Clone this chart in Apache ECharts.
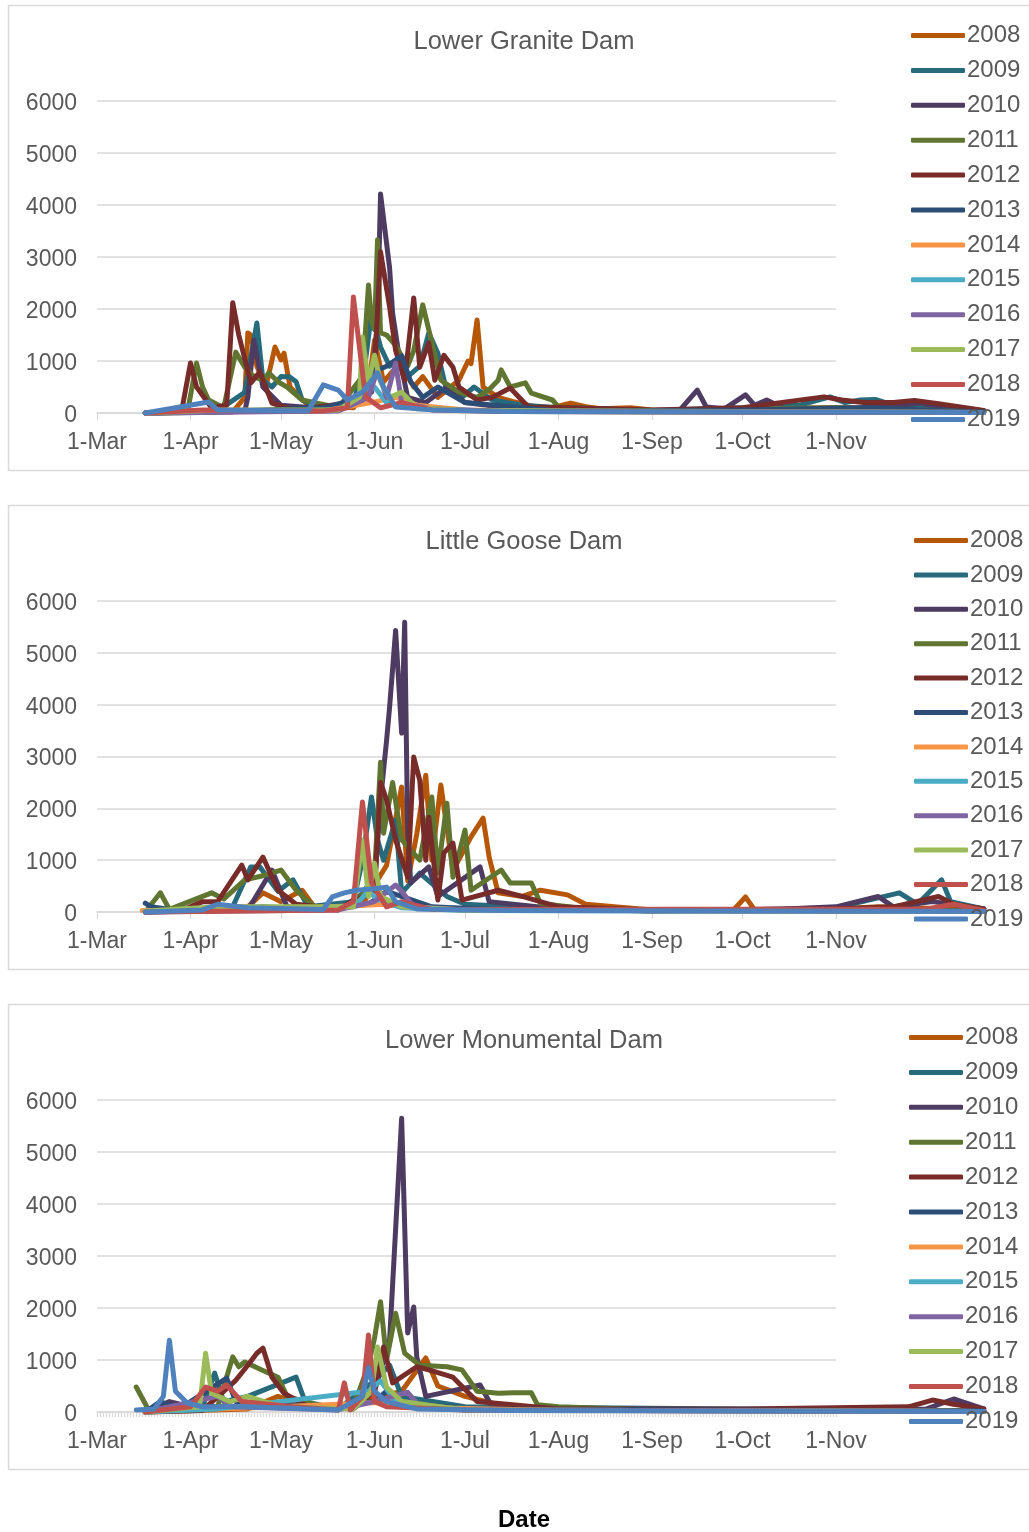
<!DOCTYPE html>
<html>
<head>
<meta charset="utf-8">
<title>Daily counts at three Snake River dams, 2008–2019</title>
<script src="https://cdn.jsdelivr.net/npm/echarts@6/dist/echarts.min.js"></script>
<style>
  html, body { margin: 0; padding: 0; background: #ffffff; }
  #chart { width: 1029px; height: 1532px; }
</style>
</head>
<body>
<div id="chart"></div>
<script>
// ---- Axis / legend content ----
const YEARS = ['2008','2009','2010','2011','2012','2013','2014','2015','2016','2017','2018','2019'];
const TICK_LABELS = ['1-Mar','1-Apr','1-May','1-Jun','1-Jul','1-Aug','1-Sep','1-Oct','1-Nov'];
const Y_TICKS = [0, 1000, 2000, 3000, 4000, 5000, 6000];
const DAM_TITLES = ['Lower Granite Dam', 'Little Goose Dam', 'Lower Monumental Dam'];
const X_TITLE = 'Date';

// ---- Lower Granite Dam: [month-day, count] ----
const LGR_2008 = [['3-17',0],['4-15',20],['4-19',300],['4-20',1540],['4-21',1500],['4-23',900],['4-26',500],['4-29',1270],['5-1',1020],['5-2',1150],['5-4',500],['5-10',150],['5-25',100],['5-30',500],['6-1',1400],['6-4',600],['6-7',800],['6-10',900],['6-14',500],['6-17',700],['6-22',300],['6-29',630],['7-2',1000],['7-3',950],['7-5',1790],['7-7',500],['7-12',300],['7-17',220],['7-22',150],['7-28',80],['8-5',190],['8-10',120],['8-15',80],['8-25',100],['9-1',60],['9-10',40],['10-1',80],['11-1',100],['12-1',80],['12-20',30]];
const LGR_2009 = [['3-17',0],['4-10',40],['4-19',400],['4-23',1730],['4-25',630],['4-28',500],['5-1',700],['5-4',690],['5-6',600],['5-8',250],['5-15',80],['5-25',200],['5-29',1000],['5-31',1920],['6-3',1270],['6-6',900],['6-9',1000],['6-12',700],['6-16',900],['6-19',1540],['6-22',1150],['6-25',400],['6-30',300],['7-4',500],['7-10',250],['7-20',150],['8-1',100],['9-1',50],['10-1',100],['10-20',150],['10-30',310],['11-4',200],['11-9',250],['11-14',260],['11-20',150],['12-5',100],['12-20',40]];
const LGR_2010 = [['3-17',0],['4-19',40],['4-20',300],['4-22',1400],['4-25',500],['5-1',150],['5-20',60],['5-31',400],['6-2',1790],['6-3',4210],['6-6',2790],['6-7',1920],['6-9',1150],['6-12',300],['6-18',200],['6-25',500],['7-1',200],['7-15',100],['8-1',60],['9-10',40],['9-16',440],['9-19',115],['9-25',80],['10-2',350],['10-5',150],['10-9',250],['10-15',80],['11-10',100],['11-20',140],['11-29',190],['12-4',130],['12-10',120],['12-20',40]];
const LGR_2011 = [['3-17',0],['3-31',20],['4-3',960],['4-5',500],['4-7',250],['4-12',100],['4-16',1170],['4-19',880],['4-22',700],['4-25',630],['4-27',770],['4-30',600],['5-3',500],['5-8',250],['5-20',100],['5-28',700],['5-30',2460],['5-31',1790],['6-1',1600],['6-2',3330],['6-3',1540],['6-5',1500],['6-8',1300],['6-12',900],['6-14',1200],['6-17',2080],['6-19',1600],['6-23',630],['6-29',400],['7-5',300],['7-9',450],['7-12',630],['7-13',830],['7-16',500],['7-21',580],['7-23',380],['7-30',250],['8-1',115],['9-1',40],['10-1',80],['11-1',100],['12-1',60],['12-20',20]];
const LGR_2012 = [['3-17',0],['3-29',20],['4-1',960],['4-3',500],['4-8',100],['4-13',150],['4-15',2120],['4-17',1500],['4-21',580],['4-24',790],['4-28',190],['5-5',60],['5-25',200],['6-1',800],['6-3',3100],['6-6',2040],['6-8',1200],['6-11',630],['6-14',2210],['6-16',880],['6-19',1350],['6-21',630],['6-24',1110],['6-27',880],['6-29',500],['7-5',250],['7-10',300],['7-16',480],['7-22',115],['8-5',100],['9-1',60],['10-1',100],['10-28',310],['11-3',250],['11-10',200],['11-20',200],['11-27',240],['12-5',180],['12-20',50]];
const LGR_2013 = [['3-17',0],['4-5',10],['4-25',60],['5-15',100],['5-28',300],['6-1',800],['6-5',900],['6-10',1100],['6-13',600],['6-17',300],['6-22',500],['7-1',200],['8-1',40],['10-1',60],['11-10',100],['12-20',20]];
const LGR_2014 = [['3-17',0],['4-20',40],['5-15',40],['5-31',200],['6-8',300],['6-15',150],['7-1',60],['8-1',30],['9-1',20],['12-20',10]];
const LGR_2015 = [['3-17',0],['5-20',60],['5-29',400],['6-1',500],['6-5',200],['6-15',80],['7-15',30],['12-20',10]];
const LGR_2016 = [['3-17',0],['5-20',40],['5-30',300],['6-2',830],['6-5',300],['6-8',960],['6-10',200],['6-20',80],['7-10',40],['12-20',10]];
const LGR_2017 = [['3-17',0],['4-10',60],['5-20',60],['5-27',300],['5-28',1460],['5-30',600],['6-1',1110],['6-3',600],['6-6',300],['6-10',400],['6-15',100],['7-1',50],['12-20',10]];
const LGR_2018 = [['3-17',0],['4-5',60],['5-15',40],['5-23',100],['5-25',2230],['5-29',310],['6-3',100],['6-10',200],['6-20',60],['7-15',30],['12-20',10]];
const LGR_2019 = [['3-17',0],['4-7',210],['4-10',60],['5-10',40],['5-15',540],['5-20',440],['5-23',250],['5-28',400],['6-2',770],['6-4',500],['6-8',115],['6-20',60],['7-15',30],['12-20',10]];

// ---- Little Goose Dam ----
const LGS_2008 = [['3-17',0],['4-20',100],['4-25',370],['5-1',200],['5-8',420],['5-12',100],['5-28',150],['6-5',900],['6-10',2410],['6-12',600],['6-15',1500],['6-18',2640],['6-20',1000],['6-23',2450],['6-27',800],['7-3',1450],['7-7',1810],['7-9',1060],['7-12',370],['7-20',300],['7-26',420],['8-4',330],['8-10',150],['9-1',40],['9-28',40],['10-2',290],['10-5',40],['11-1',60],['11-15',100],['12-20',40]];
const LGS_2009 = [['3-17',0],['4-15',100],['4-21',870],['4-24',870],['4-30',400],['5-5',620],['5-10',100],['5-25',200],['5-28',1000],['5-31',2220],['6-2',1390],['6-4',1000],['6-8',1770],['6-10',370],['6-16',750],['6-25',300],['7-1',150],['8-1',60],['10-1',40],['11-1',80],['11-22',370],['11-28',150],['12-6',620],['12-9',200],['12-20',60]];
const LGS_2010 = [['3-17',0],['4-20',40],['4-28',810],['5-3',100],['5-20',40],['6-1',500],['6-3',2160],['6-5',3310],['6-6',3950],['6-8',5430],['6-10',3450],['6-11',5590],['6-12',1520],['6-13',560],['6-19',870],['6-22',300],['7-6',870],['7-9',200],['8-1',60],['9-1',20],['10-15',60],['11-1',100],['11-15',300],['11-20',100],['12-3',200],['12-20',60]];
const LGS_2011 = [['3-17',0],['3-22',370],['3-25',50],['4-8',370],['4-12',250],['4-19',620],['4-25',700],['5-1',810],['5-6',420],['5-12',100],['5-25',100],['6-1',700],['6-3',2890],['6-4',1520],['6-7',2500],['6-10',1390],['6-16',1000],['6-20',2220],['6-22',750],['6-25',2100],['6-27',670],['7-1',1580],['7-3',420],['7-13',810],['7-16',560],['7-23',560],['7-26',170],['8-10',60],['9-1',20],['12-20',20]];
const LGS_2012 = [['3-17',0],['3-30',50],['4-5',200],['4-10',200],['4-18',905],['4-20',620],['4-25',1060],['4-30',420],['5-6',150],['5-20',60],['6-1',400],['6-3',2500],['6-5',2160],['6-8',1390],['6-12',670],['6-14',2990],['6-16',2540],['6-18',1000],['6-19',1830],['6-22',230],['6-24',1140],['6-27',1330],['6-30',230],['7-12',420],['7-20',300],['8-1',100],['9-1',40],['11-1',60],['11-20',100],['12-5',300],['12-10',150],['12-20',60]];
const LGS_2013 = [['3-17',170],['3-19',100],['3-25',50],['4-10',50],['4-25',100],['5-15',40],['5-30',150],['6-5',400],['6-10',300],['6-20',100],['7-10',50],['12-20',20]];
const LGS_2014 = [['3-16',30],['3-25',20],['5-1',60],['6-5',150],['6-15',80],['7-1',40],['12-20',10]];
const LGS_2015 = [['3-17',0],['4-5',30],['5-25',100],['5-30',400],['6-2',250],['6-10',80],['7-1',30],['12-20',10]];
const LGS_2016 = [['3-17',0],['5-20',40],['6-1',200],['6-8',520],['6-10',400],['6-14',100],['7-1',40],['12-20',10]];
const LGS_2017 = [['3-17',20],['4-10',100],['5-25',100],['5-28',1390],['5-30',300],['6-1',940],['6-3',300],['6-10',100],['7-1',40],['12-20',10]];
const LGS_2018 = [['3-17',0],['5-20',40],['5-25',200],['5-28',2120],['5-31',560],['6-5',100],['6-10',200],['6-20',50],['12-1',60],['12-10',150],['12-20',30]];
const LGS_2019 = [['3-17',0],['4-5',40],['4-10',150],['4-20',80],['5-15',50],['5-18',290],['5-22',370],['5-26',420],['6-1',450],['6-5',480],['6-8',200],['6-15',60],['7-15',30],['12-20',10]];

// ---- Lower Monumental Dam ----
const LMN_2008 = [['3-17',0],['4-20',60],['4-30',300],['5-5',200],['5-20',60],['6-10',400],['6-18',1040],['6-22',500],['7-1',300],['7-15',100],['8-1',40],['12-20',20]];
const LMN_2009 = [['3-17',0],['4-5',100],['4-9',750],['4-12',200],['4-20',300],['5-6',670],['5-9',200],['5-20',60],['6-1',600],['6-6',900],['6-10',300],['7-1',100],['12-20',20]];
const LMN_2010 = [['3-17',0],['3-25',200],['4-1',100],['5-1',100],['5-25',100],['6-1',400],['6-6',1380],['6-10',5650],['6-12',1520],['6-14',2020],['6-15',1060],['6-18',300],['7-6',520],['7-10',100],['8-1',40],['12-1',60],['12-10',250],['12-20',60]];
const LMN_2011 = [['3-14',480],['3-18',50],['3-25',60],['4-10',100],['4-15',1060],['4-17',870],['4-19',960],['4-25',800],['4-30',670],['5-3',300],['5-15',100],['5-25',100],['5-30',900],['6-1',1420],['6-3',2120],['6-5',1000],['6-8',1900],['6-11',1130],['6-16',900],['6-25',870],['6-30',810],['7-5',400],['7-12',360],['7-17',370],['7-23',370],['7-25',140],['8-1',100],['9-1',40],['12-20',20]];
const LMN_2012 = [['3-17',0],['4-5',30],['4-16',610],['4-20',900],['4-23',1130],['4-25',1230],['4-28',670],['5-2',360],['5-10',100],['5-25',60],['6-1',400],['6-4',1250],['6-7',560],['6-15',870],['6-19',810],['6-27',670],['7-5',200],['8-1',60],['10-1',60],['11-25',100],['12-3',230],['12-10',150],['12-20',60]];
const LMN_2013 = [['3-17',0],['3-22',200],['3-28',50],['4-13',650],['4-16',200],['5-15',100],['6-1',200],['6-5',400],['6-10',200],['7-1',60],['12-20',20]];
const LMN_2014 = [['3-17',0],['4-1',100],['4-10',60],['5-1',100],['6-10',200],['6-20',80],['8-1',30],['12-20',10]];
const LMN_2015 = [['3-17',0],['4-10',60],['5-30',400],['6-3',600],['6-8',200],['7-1',40],['12-20',10]];
const LMN_2016 = [['3-17',0],['4-10',300],['4-15',100],['5-20',40],['6-1',200],['6-12',380],['6-16',100],['7-1',40],['12-20',10]];
const LMN_2017 = [['3-17',0],['4-4',100],['4-6',1130],['4-8',360],['4-14',200],['4-20',300],['5-1',100],['5-25',60],['5-31',400],['6-2',1250],['6-5',480],['6-10',200],['7-1',40],['12-20',10]];
const LMN_2018 = [['3-17',0],['4-1',100],['4-6',480],['4-10',400],['4-13',520],['4-18',200],['5-5',100],['5-20',40],['5-22',560],['5-24',40],['5-28',300],['5-30',1480],['6-1',200],['6-5',100],['7-1',40],['12-20',10]];
const LMN_2019 = [['3-14',40],['3-20',60],['3-23',300],['3-25',1380],['3-27',400],['3-31',170],['4-5',100],['4-20',100],['5-20',40],['5-28',300],['5-30',850],['6-1',400],['6-5',200],['6-15',60],['7-15',30],['12-20',10]];

const PANELS = [
  [LGR_2008, LGR_2009, LGR_2010, LGR_2011, LGR_2012, LGR_2013, LGR_2014, LGR_2015, LGR_2016, LGR_2017, LGR_2018, LGR_2019],
  [LGS_2008, LGS_2009, LGS_2010, LGS_2011, LGS_2012, LGS_2013, LGS_2014, LGS_2015, LGS_2016, LGS_2017, LGS_2018, LGS_2019],
  [LMN_2008, LMN_2009, LMN_2010, LMN_2011, LMN_2012, LMN_2013, LMN_2014, LMN_2015, LMN_2016, LMN_2017, LMN_2018, LMN_2019]
];

// ---- Styling ----
const COLORS = ['#B65708','#276A7C','#4D3B62','#5F7530','#772C2A','#2C4D75',
                '#F79646','#4BACC6','#8064A2','#9BBB59','#C0504D','#4F81BD'];
const FONT = '"Liberation Sans", Arial, sans-serif';
const TEXT = '#595959';
const RULE = '#d9d9d9';

// Day offset from 1 March (non-leap season)
const MONTHS = {Jan:1,Feb:2,Mar:3,Apr:4,May:5,Jun:6,Jul:7,Aug:8,Sep:9,Oct:10,Nov:11,Dec:12};
const BASE = Date.UTC(2019, 2, 1);
function dayFrom(m, d) { return Math.round((Date.UTC(2019, m - 1, d) - BASE) / 86400000); }
function dayOfMD(md) { const p = md.split('-').map(Number); return dayFrom(p[0], p[1]); }
function dayOfLabel(lbl) { const p = lbl.split('-'); return dayFrom(MONTHS[p[1]], Number(p[0])); }

const tickDays = TICK_LABELS.map(dayOfLabel);
const labelByDay = {};
TICK_LABELS.forEach((l, i) => { labelByDay[tickDays[i]] = l; });
const AXIS_END = tickDays[tickDays.length - 1];   // 1-Nov: end of the labelled axis
const DATA_END = dayOfMD('12-31');                // series run past the labelled axis
const PX_PER_DAY = 739 / AXIS_END;

// Panel geometry
const BOX_TOP = [5, 505, 1004];
const BOX_H = [465, 464, 465];
const PLOT_TOP = [101, 601, 1100];
const PLOT_H = [312, 311, 312];
const LEGEND_TOP = [23.5, 528.5, 1025.5];
const LEGEND_GAP = [10.9, 10.4, 10.9];
const PLOT_LEFT = 97;

const grid = [], xAxis = [], yAxis = [], series = [], legend = [], graphic = [];

for (let p = 0; p < 3; p++) {
  // grid 2p: labelled axes + gridlines, grid 2p+1: series canvas (same scale, wider)
  grid.push({ left: PLOT_LEFT, top: PLOT_TOP[p], width: 739, height: PLOT_H[p] });
  grid.push({ left: PLOT_LEFT, top: PLOT_TOP[p], width: Math.round(DATA_END * PX_PER_DAY), height: PLOT_H[p] });

  const dailyTicks = [];
  for (let d = 0; d <= AXIS_END; d++) dailyTicks.push(d);

  xAxis.push({
    type: 'value', gridIndex: 2 * p, min: 0, max: AXIS_END,
    axisLine: { show: true, lineStyle: { color: RULE, width: 1.5 } },
    axisTick: { show: true, customValues: p === 2 ? dailyTicks : tickDays, length: p === 2 ? 5 : 7,
                lineStyle: { color: RULE, width: 1.3 } },
    axisLabel: { customValues: tickDays, formatter: v => labelByDay[Math.round(v)] || '',
                 color: TEXT, fontFamily: FONT, fontSize: 23, margin: 18 },
    splitLine: { show: false }
  });
  xAxis.push({ type: 'value', gridIndex: 2 * p + 1, min: 0, max: DATA_END, show: false });

  yAxis.push({
    type: 'value', gridIndex: 2 * p, min: Y_TICKS[0], max: Y_TICKS[Y_TICKS.length - 1],
    interval: Y_TICKS[1] - Y_TICKS[0],
    axisLine: { show: false }, axisTick: { show: false },
    axisLabel: { color: TEXT, fontFamily: FONT, fontSize: 23, margin: 20, lineHeight: 27,
                 verticalAlign: 'top', padding: [-11, 0, 0, 0],
                 formatter: v => String(v) },
    splitLine: { show: true, lineStyle: { color: RULE, width: 1.5 } }
  });
  yAxis.push({ type: 'value', gridIndex: 2 * p + 1, min: Y_TICKS[0], max: Y_TICKS[Y_TICKS.length - 1], show: false });

  PANELS[p].forEach((pts, i) => {
    series.push({
      name: YEARS[i], type: 'line',
      xAxisIndex: 2 * p + 1, yAxisIndex: 2 * p + 1,
      data: pts.map(([md, v]) => [dayOfMD(md), v]),
      showSymbol: false, symbol: 'none', clip: false,
      color: COLORS[i],
      lineStyle: { width: 5, color: COLORS[i], cap: 'round', join: 'round' },
      emphasis: { disabled: true }, animation: false
    });
  });

  legend.push({
    orient: 'vertical', left: 911 + (p === 1 ? 3 : p === 2 ? -2 : 0), top: LEGEND_TOP[p],
    padding: 0, itemGap: LEGEND_GAP[p], itemWidth: 54, itemHeight: 5, icon: 'roundRect',
    textStyle: { color: TEXT, fontFamily: FONT, fontSize: 24, lineHeight: 23, padding: [0, 0, 0, -3] },
    data: YEARS.slice()
  });

  // panel frame and title
  graphic.push({
    type: 'rect', silent: true, z: -10,
    shape: { x: 8.5, y: BOX_TOP[p] + 0.5, width: 1040, height: BOX_H[p] },
    style: { fill: null, stroke: RULE, lineWidth: 1.5 }
  });
  graphic.push({
    type: 'text', silent: true,
    style: { text: DAM_TITLES[p], x: 524, y: BOX_TOP[p] + 37, align: 'center', verticalAlign: 'middle',
             fill: TEXT, font: '25.5px ' + FONT }
  });
}

graphic.push({
  type: 'text', silent: true,
  style: { text: X_TITLE, x: 524, y: 1520, align: 'center', verticalAlign: 'middle',
           fill: '#000000', font: 'bold 24px ' + FONT }
});

const chart = echarts.init(document.getElementById('chart'), null, { renderer: 'canvas' });
chart.setOption({
  backgroundColor: '#ffffff',
  animation: false,
  grid, xAxis, yAxis, series, legend, graphic
});
</script>
</body>
</html>
